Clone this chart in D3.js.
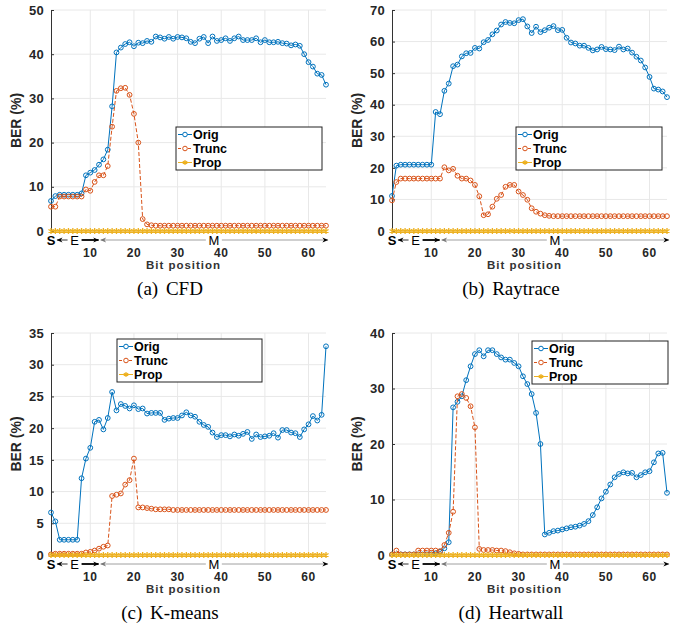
<!DOCTYPE html>
<html>
<head>
<meta charset="utf-8">
<script src="https://cdn.jsdelivr.net/npm/d3@7"></script>
<style>
    body { margin: 0; background: #fff; }
    svg { display: block; }
</style>
</head>
<body>
<svg id="chart" width="678" height="624"></svg>
<script>
// bit positions 1..64 of a double
const bits = d3.range(1, 65)
const seriesNames = ["Orig", "Trunc", "Prop"]
const seriesColors = ["#0072BD", "#D95319", "#EDB120"]
const xTicks = [10, 20, 30, 40, 50, 60]

// (a) CFD
const cfdOrig = [6.8, 7.9, 8.2, 8.2, 8.2, 8.2, 8.2, 8.5, 12.6, 13.2, 13.8, 15.0, 16.2, 18.4, 28.2, 40.4,
    41.5, 42.3, 42.7, 41.8, 42.6, 42.5, 43.0, 42.8, 44.0, 43.8, 43.5, 43.9, 43.5, 43.9, 43.8, 43.6,
    42.8, 42.5, 43.5, 43.9, 42.5, 44.0, 43.0, 43.2, 43.6, 43.0, 43.6, 44.0, 43.2, 43.2, 43.2, 43.6,
    42.7, 43.2, 42.7, 42.7, 42.8, 42.5, 42.4, 42.0, 42.2, 41.9, 40.0, 38.2, 37.2, 35.6, 35.3, 33.1]
const cfdTrunc = [5.5, 5.5, 7.8, 7.8, 7.8, 7.8, 7.8, 7.8, 9.4, 9.1, 11.1, 12.6, 12.6, 14.7, 23.6, 31.7,
    32.3, 32.4, 30.8, 26.5, 20.0, 2.7, 1.5, 1.3, 1.2, 1.2, 1.2, 1.2, 1.2, 1.2, 1.2, 1.2,
    1.2, 1.2, 1.2, 1.2, 1.2, 1.2, 1.2, 1.2, 1.2, 1.2, 1.2, 1.2, 1.2, 1.2, 1.2, 1.2,
    1.2, 1.2, 1.2, 1.2, 1.2, 1.2, 1.2, 1.2, 1.2, 1.2, 1.2, 1.2, 1.2, 1.2, 1.2, 1.2]
const cfdProp = [0, 0, 0, 0, 0, 0, 0, 0, 0, 0, 0, 0, 0, 0, 0, 0, 0, 0, 0, 0, 0, 0, 0, 0, 0, 0, 0, 0, 0, 0, 0, 0,
    0, 0, 0, 0, 0, 0, 0, 0, 0, 0, 0, 0, 0, 0, 0, 0, 0, 0, 0, 0, 0, 0, 0, 0, 0, 0, 0, 0, 0, 0, 0, 0]

// (b) Raytrace
const rayOrig = [11.1, 20.7, 21.0, 21.0, 21.0, 21.0, 21.0, 21.0, 21.0, 21.0, 37.7, 37.0, 44.4, 46.7, 52.2, 52.7,
    55.3, 56.3, 56.4, 58.0, 57.8, 59.8, 60.5, 62.3, 63.5, 65.4, 66.2, 65.9, 65.8, 66.8, 67.1, 64.8,
    62.7, 64.7, 63.0, 63.6, 64.4, 64.9, 63.6, 63.7, 61.2, 59.7, 59.4, 58.7, 58.7, 58.0, 57.2, 57.5,
    58.3, 57.6, 57.5, 57.3, 58.4, 57.5, 57.8, 56.5, 55.2, 54.0, 51.8, 48.8, 45.1, 44.8, 44.2, 42.4]
const rayTrunc = [9.7, 15.5, 16.6, 16.6, 16.6, 16.6, 16.6, 16.6, 16.6, 16.6, 16.6, 16.6, 20.2, 19.2, 19.7, 17.5,
    16.6, 16.6, 16.0, 14.6, 11.0, 5.0, 5.3, 7.7, 10.2, 11.4, 14.0, 14.6, 14.6, 12.5, 11.4, 9.9,
    7.2, 6.1, 5.5, 5.0, 4.8, 4.7, 4.7, 4.7, 4.7, 4.7, 4.7, 4.7, 4.7, 4.7, 4.7, 4.7,
    4.7, 4.7, 4.7, 4.7, 4.7, 4.7, 4.7, 4.7, 4.7, 4.7, 4.7, 4.7, 4.7, 4.7, 4.7, 4.7]
const rayProp = [0, 0, 0, 0, 0, 0, 0, 0, 0, 0, 0, 0, 0, 0, 0, 0, 0, 0, 0, 0, 0, 0, 0, 0, 0, 0, 0, 0, 0, 0, 0, 0,
    0, 0, 0, 0, 0, 0, 0, 0, 0, 0, 0, 0, 0, 0, 0, 0, 0, 0, 0, 0, 0, 0, 0, 0, 0, 0, 0, 0, 0, 0, 0, 0]

// (c) K-means
const kmOrig = [6.7, 5.3, 2.4, 2.4, 2.4, 2.4, 2.4, 12.1, 15.2, 16.9, 21.0, 21.3, 19.8, 21.6, 25.7, 22.8,
    23.8, 23.5, 23.1, 23.6, 23.0, 23.1, 22.3, 22.4, 22.4, 22.4, 21.3, 21.5, 21.6, 21.6, 22.0, 22.5,
    22.0, 21.8, 21.0, 20.5, 20.2, 19.3, 18.6, 18.9, 18.9, 18.7, 19.0, 18.8, 19.1, 19.4, 18.3, 19.0,
    18.6, 18.7, 18.8, 19.2, 18.5, 19.7, 19.7, 19.3, 19.2, 18.6, 19.8, 20.6, 21.9, 21.2, 22.1, 32.9]
const kmTrunc = [0.1, 0.2, 0.2, 0.2, 0.2, 0.2, 0.2, 0.2, 0.4, 0.5, 0.7, 1.0, 1.3, 1.5, 9.3, 9.5,
    9.7, 11.1, 11.8, 15.2, 7.5, 7.5, 7.4, 7.3, 7.2, 7.2, 7.2, 7.2, 7.1, 7.1, 7.1, 7.1,
    7.1, 7.1, 7.1, 7.1, 7.1, 7.1, 7.1, 7.1, 7.1, 7.1, 7.1, 7.1, 7.1, 7.1, 7.1, 7.1,
    7.1, 7.1, 7.1, 7.1, 7.1, 7.1, 7.1, 7.1, 7.1, 7.1, 7.1, 7.1, 7.1, 7.1, 7.1, 7.1]
const kmProp = [0, 0, 0, 0, 0, 0, 0, 0, 0, 0, 0, 0, 0, 0, 0, 0, 0, 0, 0, 0, 0, 0, 0, 0, 0, 0, 0, 0, 0, 0, 0, 0,
    0, 0, 0, 0, 0, 0, 0, 0, 0, 0, 0, 0, 0, 0, 0, 0, 0, 0, 0, 0, 0, 0, 0, 0, 0, 0, 0, 0, 0, 0, 0, 0]

// (d) Heartwall
const hwOrig = [0.1, 0.1, 0.1, 0.1, 0.1, 0.1, 0.1, 0.1, 0.1, 0.1, 0.3, 0.6, 1.2, 2.3, 26.6, 27.6,
    28.6, 31.5, 34.0, 36.2, 36.9, 35.8, 36.9, 36.9, 36.2, 35.6, 35.2, 35.2, 34.6, 34.0, 32.2, 30.8,
    29.0, 25.6, 20.0, 3.7, 4.0, 4.3, 4.4, 4.6, 4.8, 5.0, 5.1, 5.3, 5.6, 6.1, 7.2, 8.6,
    10.2, 11.4, 12.7, 14.0, 14.6, 14.9, 14.7, 14.8, 14.0, 14.4, 14.9, 15.1, 16.7, 18.3, 18.4, 11.2]
const hwTrunc = [0.1, 0.8, 0.1, 0.1, 0.1, 0.1, 0.8, 0.8, 0.8, 0.8, 0.8, 0.7, 1.8, 4.0, 7.8, 28.6,
    29.0, 28.3, 26.8, 23.0, 1.1, 0.9, 0.9, 0.9, 0.8, 0.8, 0.7, 0.5, 0.3, 0.2, 0.1, 0.1,
    0.1, 0.1, 0.1, 0.1, 0.1, 0.1, 0.1, 0.1, 0.1, 0.1, 0.1, 0.1, 0.1, 0.1, 0.1, 0.1,
    0.1, 0.1, 0.1, 0.1, 0.1, 0.1, 0.1, 0.1, 0.1, 0.1, 0.1, 0.1, 0.1, 0.1, 0.1, 0.1]
const hwProp = [0, 0, 0, 0, 0, 0, 0, 0, 0, 0, 0, 0, 0, 0, 0, 0, 0, 0, 0, 0, 0, 0, 0, 0, 0, 0, 0, 0, 0, 0, 0, 0,
    0, 0, 0, 0, 0, 0, 0, 0, 0, 0, 0, 0, 0, 0, 0, 0, 0, 0, 0, 0, 0, 0, 0, 0, 0, 0, 0, 0, 0, 0, 0, 0]

const svg = d3.select("#chart")
const sans = "'Liberation Sans', Arial, sans-serif"
const serif = "'Liberation Serif', 'Times New Roman', serif"

// arrowheads for the S / E / M field markers
const defs = svg.append("defs")
function addArrow(id, color) {
    defs.append("marker")
        .attr("id", id)
        .attr("viewBox", "0 0 10 10")
        .attr("refX", 9)
        .attr("refY", 5)
        .attr("markerWidth", 7)
        .attr("markerHeight", 6)
        .attr("markerUnits", "userSpaceOnUse")
        .attr("orient", "auto-start-reverse")
        .append("path")
        .attr("d", "M0,1 L10,5 L0,9 L3,5 Z")
        .attr("fill", color)
}
addArrow("arrow-black", "#000")
addArrow("arrow-gray", "#777")

function drawPanel(p) {
    const width = 275,
        height = p.height

    const x = d3.scaleLinear().domain([1, 64]).range([0, width])
    const y = d3.scaleLinear().domain([0, p.yMax]).range([height, 0])
    const yTicks = d3.range(0, p.yMax + 0.01, p.yStep)

    const g = svg.append("g")
        .attr("transform", `translate(${p.left},${p.top})`)

    // grid
    g.append("g")
        .selectAll("line")
        .data(xTicks)
        .join("line")
        .attr("x1", d => x(d)).attr("x2", d => x(d))
        .attr("y1", 0).attr("y2", height)
        .attr("stroke", "#e8e8e8")
    g.append("g")
        .selectAll("line")
        .data(yTicks.slice(1))
        .join("line")
        .attr("x1", 0).attr("x2", width)
        .attr("y1", d => y(d)).attr("y2", d => y(d))
        .attr("stroke", "#e8e8e8")

    // y axis, inward ticks like matlab
    const yAxis = g.append("g")
        .call(d3.axisRight(y).tickValues(yTicks).tickSize(3).tickFormat(""))
    yAxis.select(".domain").attr("stroke", "#333").attr("stroke-width", 1)
    yAxis.selectAll(".tick line").attr("stroke", "#333")

    g.append("g")
        .selectAll("text")
        .data(yTicks)
        .join("text")
        .attr("x", -7)
        .attr("y", d => y(d))
        .attr("dy", "0.36em")
        .attr("text-anchor", "end")
        .style("font", `bold 13px ${sans}`)
        .style("letter-spacing", "0.3px")
        .style("fill", "#262626")
        .text(d => d)

    g.append("g")
        .selectAll("text")
        .data(xTicks)
        .join("text")
        .attr("x", d => x(d))
        .attr("y", height + 26)
        .attr("text-anchor", "middle")
        .style("font", `bold 12px ${sans}`)
        .style("letter-spacing", "0.5px")
        .style("fill", "#262626")
        .text(d => d)

    g.append("text")
        .attr("transform", `translate(-30,${height / 2}) rotate(-90)`)
        .attr("text-anchor", "middle")
        .style("font", `bold 14px ${sans}`)
        .style("fill", "#262626")
        .text("BER (%)")

    g.append("text")
        .attr("x", width / 2 - 5)
        .attr("y", height + 38)
        .attr("text-anchor", "middle")
        .style("font", `bold 11.5px ${sans}`)
        .style("letter-spacing", "1px")
        .style("fill", "#333")
        .text("Bit position")

    // caption
    g.append("text")
        .attr("x", 119)
        .attr("y", height + 64)
        .attr("text-anchor", "middle")
        .style("font", `19px ${serif}`)
        .style("word-spacing", "3px")
        .style("fill", "#000")
        .text(p.caption)

    // S / E / M fields under the axis
    const fy = height + 9
    g.append("text")
        .attr("x", x(1))
        .attr("y", fy + 4.5)
        .attr("text-anchor", "middle")
        .style("font", `bold 13px ${sans}`)
        .text("S")
    g.append("line")
        .attr("x1", x(6.4) - 7).attr("x2", x(2.4))
        .attr("y1", fy).attr("y2", fy)
        .attr("stroke", "#000").attr("stroke-width", 0.8)
        .attr("marker-end", "url(#arrow-black)")
    g.append("line")
        .attr("x1", x(6.4) + 7).attr("x2", x(11.9))
        .attr("y1", fy).attr("y2", fy)
        .attr("stroke", "#000").attr("stroke-width", 1.8)
        .attr("marker-end", "url(#arrow-black)")
    g.append("text")
        .attr("x", x(6.4))
        .attr("y", fy + 4.5)
        .attr("text-anchor", "middle")
        .style("font", `13px ${sans}`)
        .text("E")
    g.append("line")
        .attr("x1", x(12.4)).attr("x2", x(64.4))
        .attr("y1", fy).attr("y2", fy)
        .attr("stroke", "#888").attr("stroke-width", 0.8)
        .attr("marker-start", "url(#arrow-gray)")
        .attr("marker-end", "url(#arrow-black)")
    g.append("rect")
        .attr("x", x(38.3) - 8).attr("y", fy - 6)
        .attr("width", 16).attr("height", 12)
        .attr("fill", "#fff")
    g.append("text")
        .attr("x", x(38.3))
        .attr("y", fy + 4.5)
        .attr("text-anchor", "middle")
        .style("font", `13px ${sans}`)
        .text("M")

    // series
    const line = d3.line()
        .x((d, i) => x(bits[i]))
        .y(d => y(d))
    const series = [p.orig, p.trunc, p.prop]

    series.forEach((values, k) => {
        const s = g.append("g")
        s.append("path")
            .datum(values)
            .attr("d", line)
            .attr("fill", "none")
            .attr("stroke", seriesColors[k])
            .attr("stroke-width", k === 2 ? 1.5 : 1)
            .attr("stroke-dasharray", k === 1 ? "4,2" : null)
        if (k < 2) {
            s.selectAll("circle")
                .data(values)
                .join("circle")
                .attr("cx", (d, i) => x(bits[i]))
                .attr("cy", d => y(d))
                .attr("r", 2.4)
                .attr("fill", "none")
                .attr("stroke", seriesColors[k])
                .attr("stroke-width", 1)
        } else {
            s.selectAll("path.pt")
                .data(values)
                .join("path")
                .attr("class", "pt")
                .attr("transform", (d, i) => `translate(${x(bits[i])},${y(d)})`)
                .attr("d", d3.symbol(d3.symbolAsterisk, 24))
                .attr("fill", "none")
                .attr("stroke", seriesColors[k])
                .attr("stroke-width", 1.3)
        }
    })

    // legend
    const lg = svg.append("g")
        .attr("transform", `translate(${p.legend[0]},${p.legend[1]})`)
    lg.append("rect")
        .attr("width", p.legend[2])
        .attr("height", 43)
        .attr("fill", "#fff")
        .attr("stroke", "#222")
        .attr("stroke-width", 1)
    seriesNames.forEach((name, k) => {
        const ly = 7.5 + k * 14
        lg.append("line")
            .attr("x1", 2).attr("x2", 16)
            .attr("y1", ly).attr("y2", ly)
            .attr("stroke", seriesColors[k])
            .attr("stroke-width", 1)
            .attr("stroke-dasharray", k === 1 ? "3,2" : null)
        if (k < 2) {
            lg.append("circle")
                .attr("cx", 9).attr("cy", ly).attr("r", 2.3)
                .attr("fill", "#fff")
                .attr("stroke", seriesColors[k])
        } else {
            lg.append("path")
                .attr("transform", `translate(9,${ly})`)
                .attr("d", d3.symbol(d3.symbolAsterisk, 18))
                .attr("stroke", seriesColors[k])
                .attr("stroke-width", 1.2)
        }
        lg.append("text")
            .attr("x", 17)
            .attr("y", ly)
            .attr("dy", "0.36em")
            .style("font", `bold 12.5px ${sans}`)
            .style("fill", "#000")
            .text(name)
    })
}

drawPanel({ left: 51, top: 10, height: 221, yMax: 50, yStep: 10, caption: "(a) CFD",
    orig: cfdOrig, trunc: cfdTrunc, prop: cfdProp, legend: [176, 127, 146] })
drawPanel({ left: 392, top: 10, height: 221, yMax: 70, yStep: 10, caption: "(b) Raytrace",
    orig: rayOrig, trunc: rayTrunc, prop: rayProp, legend: [516, 127, 146] })
drawPanel({ left: 51, top: 333, height: 222, yMax: 35, yStep: 5, caption: "(c) K-means",
    orig: kmOrig, trunc: kmTrunc, prop: kmProp, legend: [117, 339, 145] })
drawPanel({ left: 392, top: 333, height: 222, yMax: 40, yStep: 10, caption: "(d) Heartwall",
    orig: hwOrig, trunc: hwTrunc, prop: hwProp, legend: [532, 341, 136] })
</script>
</body>
</html>
